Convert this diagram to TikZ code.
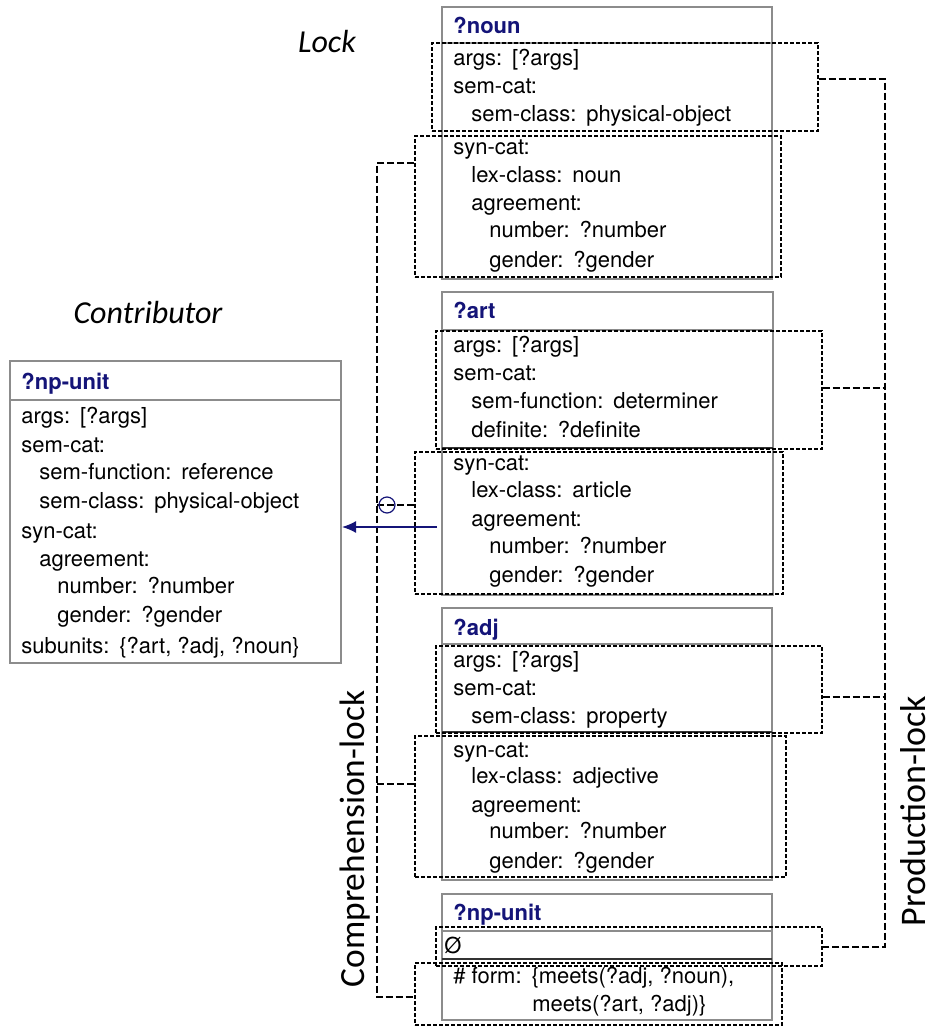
\documentclass[tikz,border=0pt]{standalone}
\usepackage{fontspec}
\setmainfont{TeX Gyre Heros}
\newfontfamily\calibfont{Carlito}
\usetikzlibrary{fit,arrows.meta}
\definecolor{unitnavy}{RGB}{20,20,120}
\definecolor{framegray}{RGB}{140,140,140}
\newcommand\colsp{\hspace{0.45em}}
% one node per feature line: y/indent/text
\newcommand\slotrows[3]{%
  \foreach[count=\i] \yb/\lv/\txt in {#3}
    \node[slot] (#1-\i) at ({#2+18*\lv},\yb) {\txt};}
\tikzset{
  unitframe/.style={draw=framegray, line width=1.1pt},
  lockbox/.style={draw=black, dash pattern=on 2pt off 1pt, line width=0.6pt, inner sep=0pt, fit={#1}},
  lockline/.style={draw=black, dash pattern=on 3.5pt off 1.5pt, line width=0.9pt},
  unithead/.style={anchor=base west, inner sep=0pt, text=unitnavy, font=\fontsize{11}{13}\selectfont\bfseries},
  slot/.style={anchor=base west, inner sep=0pt, font=\fontsize{11}{13}\selectfont},
  tag/.style={font=\calibfont\itshape\fontsize{16}{19}\selectfont},
  locktag/.style={rotate=90, inner sep=0pt, font=\calibfont\fontsize{#1}{20}\selectfont}
}
\begin{document}
\begin{tikzpicture}[x=0.5pt,y=-0.5pt]
\useasboundingbox (0,0) rectangle (933,1028);

% contributor
\node[tag] (contributor) at (148,313) {Contributor};
\node[unitframe, inner sep=0pt, fit={(10,361) (341,663)}] (contrib) {};
\draw[unitframe] (10,400) -- (341,400);
\node[unithead] (contrib-head) at (21,389) {?np-unit};
\slotrows{contrib}{21}{423/0/{args:\colsp[?args]}, 452/0/{sem-cat:},
  479/1/{sem-function:\colsp reference}, 508/1/{sem-class:\colsp physical-object},
  538/0/{syn-cat:}, 566/1/{agreement:}, 593/2/{number:\colsp ?number},
  622/2/{gender:\colsp ?gender}, 653/0/{subunits:\colsp\{?art, ?adj, ?noun\}}}

% lock units
\node[tag] (lock) at (327,42) {Lock};
\node[unitframe, inner sep=0pt, fit={(442,7) (772,279)}] (noun) {};
\draw[unitframe] (442,43) -- (772,43);
\node[unithead] (noun-head) at (453,33) {?noun};
\slotrows{nounsem}{453}{65/0/{args:\colsp[?args]}, 93/0/{sem-cat:},
  121/1/{sem-class:\colsp physical-object}}
\slotrows{nounsyn}{453}{154/0/{syn-cat:}, 182/1/{lex-class:\colsp noun},
  210/1/{agreement:}, 237/2/{number:\colsp ?number}, 267/2/{gender:\colsp ?gender}}
\node[lockbox={(432,43) (818,131)}] (nounsem) {};
\node[lockbox={(415,136) (781,277)}] (nounsyn) {};

\node[unitframe, inner sep=0pt, fit={(442,292) (773,595)}] (art) {};
\draw[unitframe] (442,330) -- (773,330);
\draw[black!80, line width=0.8pt] (442,448) -- (773,448);
\node[unithead] (art-head) at (453,318) {?art};
\slotrows{artsem}{453}{352/0/{args:\colsp[?args]}, 380/0/{sem-cat:},
  408/1/{sem-function:\colsp determiner}, 437/1/{definite:\colsp ?definite}}
\slotrows{artsyn}{453}{470/0/{syn-cat:}, 497/1/{lex-class:\colsp article},
  526/1/{agreement:}, 553/2/{number:\colsp ?number}, 582/2/{gender:\colsp ?gender}}
\node[lockbox={(436,331) (822,449)}] (artsem) {};
\node[lockbox={(415,452) (783,594)}] (artsyn) {};

\node[unitframe, inner sep=0pt, fit={(442,608) (772,880)}] (adj) {};
\draw[unitframe] (442,644) -- (772,644);
\draw[black!80, line width=0.8pt] (442,732) -- (772,732);
\node[unithead] (adj-head) at (453,635) {?adj};
\slotrows{adjsem}{453}{667/0/{args:\colsp[?args]}, 695/0/{sem-cat:},
  723/1/{sem-class:\colsp property}}
\slotrows{adjsyn}{453}{757/0/{syn-cat:}, 783/1/{lex-class:\colsp adjective},
  812/1/{agreement:}, 838/2/{number:\colsp ?number}, 868/2/{gender:\colsp ?gender}}
\node[lockbox={(436,646) (822,733)}] (adjsem) {};
\node[lockbox={(415,736) (786,877)}] (adjsyn) {};

\node[unitframe, inner sep=0pt, fit={(442,894) (772,1020)}] (npunit) {};
\draw[unitframe] (442,931) -- (772,931);
\draw[black!80, line width=0.8pt] (442,959) -- (772,959);
\node[unithead] (npunit-head) at (453,920) {?np-unit};
\node[slot] (nil) at (444,953) {\O};
\node[slot] (form-1) at (453,983) {\#\ form:\colsp\{meets(?adj, ?noun),};
\node[slot] (form-2) at (532,1011) {meets(?art, ?adj)\}};
\node[lockbox={(436,927) (822,966)}] (nilsem) {};
\node[lockbox={(415,963) (782,1025)}] (formsyn) {};

% production-lock
\coordinate (prod-top) at (885,79);
\coordinate (prod-art) at (885,388);
\coordinate (prod-adj) at (885,697);
\coordinate (prod-bot) at (885,947);
\draw[lockline] (nounsem.east |- prod-top) -- (prod-top) -- (prod-bot) -- (nilsem.east |- prod-bot);
\draw[lockline] (artsem.east |- prod-art) -- (prod-art);
\draw[lockline] (adjsem.east |- prod-adj) -- (prod-adj);
\node[locktag=18] (prod-label) at (913,811) {Production-lock};

% comprehension-lock
\coordinate (comp-top) at (377,163);
\coordinate (comp-art) at (377,505);
\coordinate (comp-adj) at (377,784);
\coordinate (comp-bot) at (377,997);
\draw[lockline] (nounsyn.west |- comp-top) -- (comp-top) -- (comp-bot) -- (formsyn.west |- comp-bot);
\draw[lockline] (comp-art) -- (artsyn.west |- comp-art);
\draw[lockline] (comp-adj) -- (adjsyn.west |- comp-adj);
\node[circle, draw=unitnavy, line width=0.6pt, minimum size=8pt, inner sep=0pt] (artlink) at (387,505) {};
\node[locktag=17.7] (comp-label) at (355,839) {Comprehension-lock};

% contribution arrow
\coordinate (art-out) at (437,527);
\draw[unitnavy, line width=0.65pt, -{Latex[length=7pt,width=6pt]}] (art-out) -- (contrib.east |- art-out);
\end{tikzpicture}
\end{document}
